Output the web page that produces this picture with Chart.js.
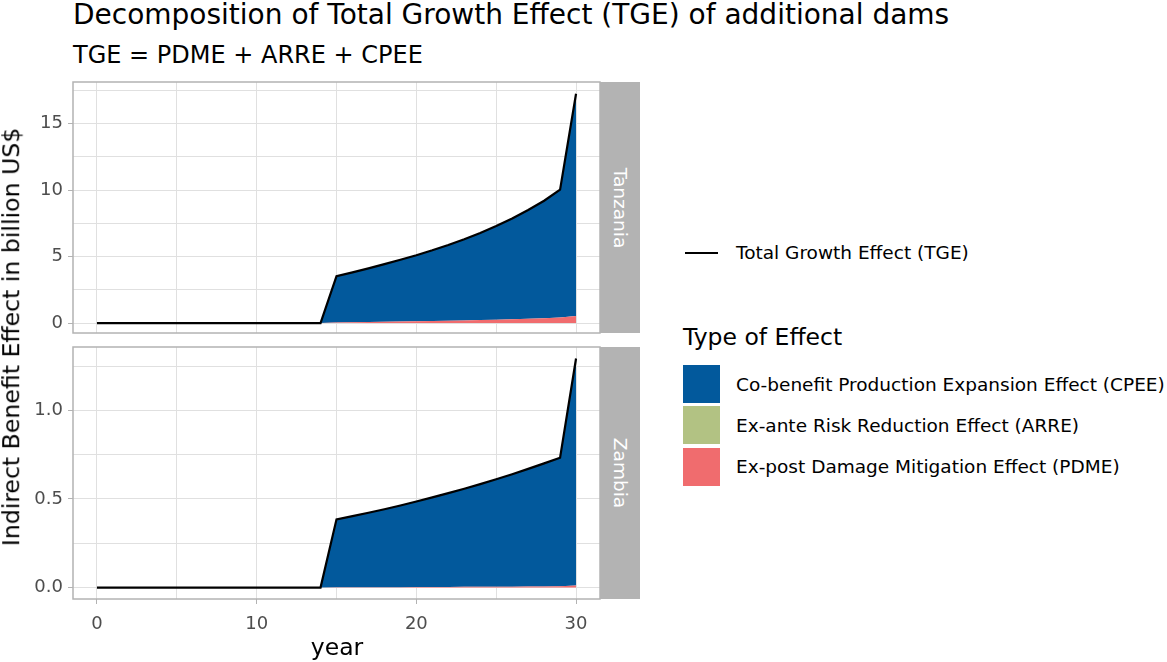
<!DOCTYPE html>
<html>
<head>
<meta charset="utf-8">
<script src="https://cdn.jsdelivr.net/npm/chart.js@4/dist/chart.umd.min.js"></script>
<style>
  body { margin: 0; background: #fff; font-family: "DejaVu Sans", sans-serif; }
  #wrap { position: relative; width: 1167px; height: 662px; overflow: hidden; }
  .t { position: absolute; white-space: nowrap; line-height: 1; color: #000; }
  canvas { position: absolute; }
  .strip { position: absolute; left: 600px; width: 40px; background: #b3b3b3; }
  .strip span { position: absolute; left: 50%; top: 50%; transform: translate(-50%, -50%) rotate(90deg);
    color: #fff; font-size: 18.5px; white-space: nowrap; line-height: 1; }
  .key { position: absolute; left: 683px; width: 37px; height: 38px; }
</style>
</head>
<body>
<div id="wrap">
  <div class="t" style="left:73px;top:1px;font-size:28px;">Decomposition of Total Growth Effect (TGE) of additional dams</div>
  <div class="t" style="left:73px;top:43px;font-size:24px;">TGE = PDME + ARRE + CPEE</div>

  <canvas id="tz" width="605" height="291" style="left:0;top:62px;"></canvas>
  <canvas id="zm" width="605" height="308" style="left:0;top:327px;"></canvas>

  <div class="strip" style="top:82px;height:251px;"><span>Tanzania</span></div>
  <div class="strip" style="top:347px;height:252px;"><span>Zambia</span></div>

  <div class="t" style="left:12px;top:337px;font-size:23.6px;transform:translate(-50%,-50%) rotate(-90deg);">Indirect Benefit Effect in billion US$</div>
  <div class="t" style="left:337px;top:648px;font-size:23.5px;transform:translate(-50%,-50%);">year</div>

  <!-- legend -->
  <div style="position:absolute;left:685px;top:252px;width:33px;height:2px;background:#000;"></div>
  <div class="t" style="left:736px;top:253px;font-size:18.5px;transform:translateY(-50%);">Total Growth Effect (TGE)</div>
  <div class="t" style="left:683px;top:338px;font-size:23.5px;transform:translateY(-50%);">Type of Effect</div>
  <div class="key" style="top:365px;background:#02599c;"></div>
  <div class="key" style="top:406px;background:#b2c283;"></div>
  <div class="key" style="top:448px;background:#f06c6e;"></div>
  <div class="t" style="left:736px;top:385px;font-size:18.5px;transform:translateY(-50%);">Co-benefit Production Expansion Effect (CPEE)</div>
  <div class="t" style="left:736px;top:426px;font-size:18.5px;transform:translateY(-50%);">Ex-ante Risk Reduction Effect (ARRE)</div>
  <div class="t" style="left:736px;top:467px;font-size:18.5px;transform:translateY(-50%);">Ex-post Damage Mitigation Effect (PDME)</div>
</div>

<script>
// years 0..30
const years = [0,1,2,3,4,5,6,7,8,9,10,11,12,13,14,15,16,17,18,19,20,21,22,23,24,25,26,27,28,29,30];

// Tanzania (billion US$)
const tzTGE  = [0,0,0,0,0,0,0,0,0,0,0,0,0,0,0, 3.53,3.81,4.11,4.43,4.76,5.10,5.47,5.87,6.30,6.77,7.30,7.87,8.50,9.20,10.03,17.25];
const tzCPEE = [0,0,0,0,0,0,0,0,0,0,0,0,0,0,0, 3.49,3.75,4.03,4.33,4.65,4.97,5.32,5.70,6.11,6.55,7.05,7.59,8.18,8.84,9.62,16.73];
const tzARRE = [0,0,0,0,0,0,0,0,0,0,0,0,0,0,0, 0,0,0,0,0,0,0,0,0,0,0,0,0,0,0,0];
const tzPDME = [0,0,0,0,0,0,0,0,0,0,0,0,0,0,0, 0.04,0.06,0.08,0.10,0.11,0.13,0.15,0.17,0.19,0.22,0.25,0.28,0.32,0.36,0.41,0.52];

// Zambia (billion US$)
const zmTGE  = [0,0,0,0,0,0,0,0,0,0,0,0,0,0,0, 0.385,0.403,0.422,0.442,0.463,0.486,0.509,0.533,0.558,0.584,0.611,0.640,0.670,0.701,0.733,1.293];
const zmCPEE = [0,0,0,0,0,0,0,0,0,0,0,0,0,0,0, 0.384,0.402,0.420,0.440,0.461,0.483,0.506,0.530,0.554,0.580,0.606,0.635,0.664,0.695,0.726,1.281];
const zmARRE = [0,0,0,0,0,0,0,0,0,0,0,0,0,0,0, 0,0,0,0,0,0,0,0,0,0,0,0,0,0,0,0];
const zmPDME = [0,0,0,0,0,0,0,0,0,0,0,0,0,0,0, 0.001,0.001,0.002,0.002,0.002,0.003,0.003,0.003,0.004,0.004,0.005,0.005,0.006,0.006,0.007,0.012];

const xTicks  = [0,5,10,15,20,25,30];
const tzTicks = [0,2.5,5,7.5,10,12.5,15,17.5];
const zmTicks = [0,0.25,0.5,0.75,1,1.25];

const cBlue = '#02599c', cGreen = '#b2c283', cRed = '#f06c6e';
const gridCol = '#e0e0e0', frameCol = '#b3b3b3', tickTxt = '#4d4d4d';

const pts = arr => years.map((y, i) => ({ x: y, y: arr[i] }));

// panel frame
const framePlugin = {
    id: 'frame',
    afterDraw(chart) {
        const a = chart.chartArea, ctx = chart.ctx;
        ctx.save();
        ctx.strokeStyle = frameCol;
        ctx.lineWidth = 1.5;
        ctx.strokeRect(a.left, a.top, a.right - a.left, a.bottom - a.top);
        ctx.restore();
    }
};

function makePanel(id, tge, cpee, arre, pdme, yMin, yMax, yTicks, labelStep, decimals, showX) {
    // areas stack in dataset order: PDME at the bottom, then ARRE, then CPEE
    const area = (label, data, col, fill) => ({
        label, data: pts(data), backgroundColor: col, borderWidth: 0,
        fill, pointRadius: 0, tension: 0, stack: 'areas', order: 1
    });
    new Chart(document.getElementById(id), {
        type: 'line',
        data: {
            datasets: [
                { label: 'Total Growth Effect (TGE)', data: pts(tge), borderColor: '#000', borderWidth: 2.2,
                  fill: false, pointRadius: 0, tension: 0, stack: 'tge', order: 0 },
                area('PDME', pdme, cRed, 'origin'),
                area('ARRE', arre, cGreen, '-1'),
                area('CPEE', cpee, cBlue, '-1')
            ]
        },
        options: {
            responsive: false,
            animation: false,
            layout: { padding: { top: 20, right: 5, bottom: showX ? 0 : 20, left: 0 } },
            plugins: { legend: { display: false }, tooltip: { enabled: false } },
            scales: {
                x: {
                    type: 'linear', min: -1.5, max: 31.5,
                    afterBuildTicks: s => { s.ticks = xTicks.map(v => ({ value: v })); },
                    afterFit: s => { s.height = showX ? 36 : 0; },
                    border: { display: false },
                    grid: {
                        color: gridCol, lineWidth: 1, drawTicks: showX, tickLength: 5,
                        tickColor: c => (c.tick && c.tick.value % 10 === 0) ? frameCol : 'rgba(0,0,0,0)'
                    },
                    ticks: {
                        display: showX, color: tickTxt, padding: 10, maxRotation: 0, autoSkip: false,
                        font: { family: 'DejaVu Sans', size: 18 },
                        callback: v => v % 10 === 0 ? String(v) : ''
                    }
                },
                y: {
                    stacked: true, min: yMin, max: yMax,
                    afterBuildTicks: s => { s.ticks = yTicks.map(v => ({ value: v })); },
                    afterFit: s => { s.width = 73; },
                    border: { display: false },
                    grid: {
                        color: gridCol, lineWidth: 1, tickLength: 5,
                        tickColor: c => (c.tick && Math.abs(c.tick.value / labelStep - Math.round(c.tick.value / labelStep)) < 1e-6) ? frameCol : 'rgba(0,0,0,0)'
                    },
                    ticks: {
                        color: tickTxt, padding: 5, autoSkip: false,
                        font: { family: 'DejaVu Sans', size: 18 },
                        callback: v => Math.abs(v / labelStep - Math.round(v / labelStep)) < 1e-6 ? v.toFixed(decimals) : ''
                    }
                }
            }
        },
        plugins: [framePlugin]
    });
}

makePanel('tz', tzTGE, tzCPEE, tzARRE, tzPDME, -0.75, 18.13, tzTicks, 5, 0, false);
makePanel('zm', zmTGE, zmCPEE, zmARRE, zmPDME, -0.0647, 1.358, zmTicks, 0.5, 1, true);
</script>
</body>
</html>
